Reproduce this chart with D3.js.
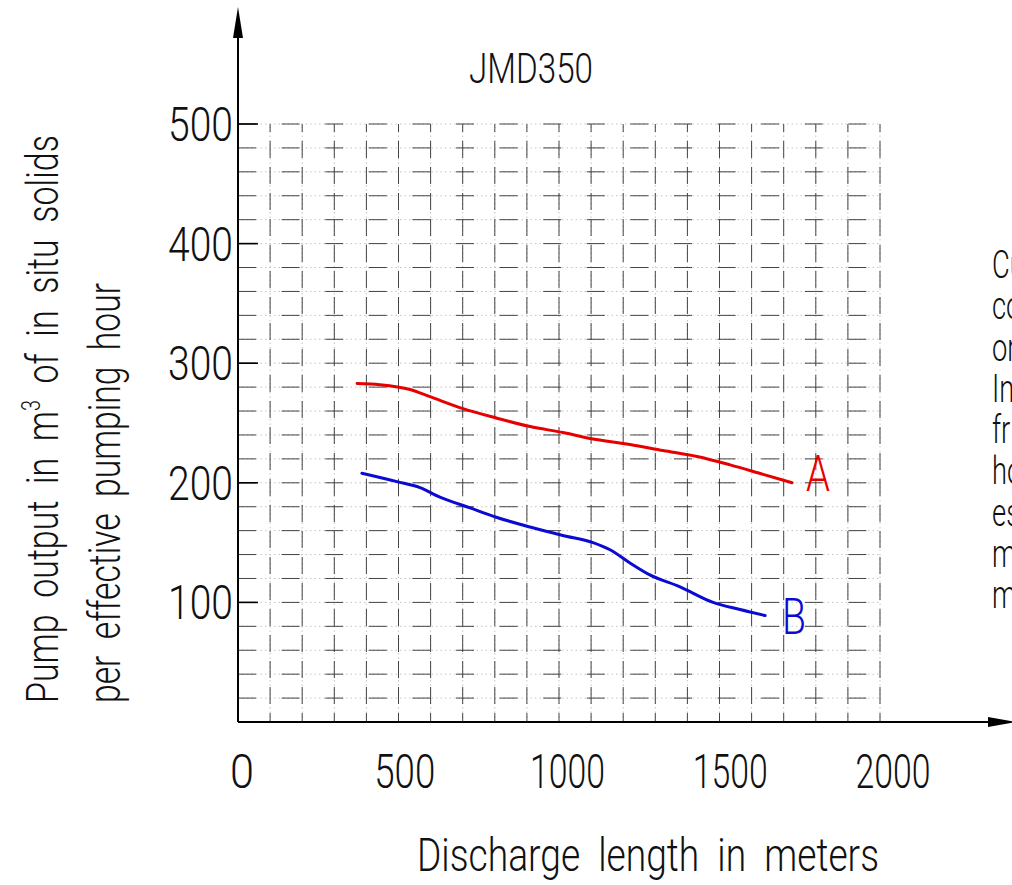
<!DOCTYPE html>
<html lang="en">
<head>
  <meta charset="UTF-8">
  <title>JMD350 pump output</title>
  <style>
    body { margin: 0; background: #fff; }
    svg { display: block; }
    text { font-family: Roboto, "DejaVu Sans", sans-serif; font-weight: 300; fill: #111; white-space: pre; }
  </style>
</head>
<body>
  <svg width="1012" height="885"></svg>
  <script src="https://d3js.org/d3.v7.min.js"></script>
  <script>
    // data
    const xTicks = [0, 500, 1000, 1500, 2000];
    const yTicks = [100, 200, 300, 400, 500];

    const curveA = [
      [371, 283], [442, 282], [536, 278], [598, 272], [701, 262], [807, 254],
      [910, 247], [1012, 242], [1097, 237], [1221, 232], [1324, 227],
      [1430, 222], [1533, 215], [1636, 207], [1726, 200]
    ];
    const curveB = [
      [386, 208], [495, 201], [567, 196], [629, 188], [723, 179], [807, 171],
      [910, 163], [1012, 156], [1106, 150], [1159, 144], [1221, 133],
      [1283, 123], [1377, 113], [1480, 100], [1564, 94], [1642, 89]
    ];
    const seriesNames = ["A", "B"];
    const seriesColors = ["#e60000", "#0a0ad2"];

    // cut-off note at the right edge of the drawing
    const noteLines = ["Cu", "co", "or", "In", "fr", "ho", "es", "m", "m"];

    const svg = d3.select("svg");

    const x = d3.scaleLinear().domain([0, 2000]).range([238, 880]);
    const y = d3.scaleLinear().domain([0, 500]).range([722, 124]);

    // grid: faint dotted lines under CAD style dashes
    const gridX = d3.range(100, 2001, 100);
    const gridY = d3.range(20, 501, 20);
    const grid = svg.append("g");

    grid.selectAll(".hdot").data(gridY).enter().append("line")
      .attr("x1", x(0)).attr("x2", x(2000))
      .attr("y1", d => y(d)).attr("y2", d => y(d))
      .attr("stroke", "#c4c4c4").attr("stroke-width", 1)
      .attr("stroke-dasharray", "1.5 3");
    grid.selectAll(".vdot").data(gridX).enter().append("line")
      .attr("x1", d => x(d)).attr("x2", d => x(d))
      .attr("y1", y(0)).attr("y2", y(500))
      .attr("stroke", "#c4c4c4").attr("stroke-width", 1)
      .attr("stroke-dasharray", "1.5 3");

    grid.selectAll(".hdash").data(gridY).enter().append("line")
      .attr("x1", x(0)).attr("x2", x(2000))
      .attr("y1", d => y(d)).attr("y2", d => y(d))
      .attr("stroke", "#444").attr("stroke-width", 1)
      .attr("stroke-dasharray", "18 25.6");
    grid.selectAll(".vdash").data(gridX).enter().append("line")
      .attr("x1", d => x(d)).attr("x2", d => x(d))
      .attr("y1", y(0)).attr("y2", y(500))
      .attr("stroke", "#444").attr("stroke-width", 1)
      .attr("stroke-dasharray", "17 9")
      .attr("stroke-dashoffset", 8);

    // short dark ticks on the y axis
    svg.append("g").selectAll("line").data(yTicks).enter().append("line")
      .attr("x1", x(0)).attr("x2", x(0) + 20)
      .attr("y1", d => y(d)).attr("y2", d => y(d))
      .attr("stroke", "#000").attr("stroke-width", 1.6);

    // axes with arrow heads
    svg.append("line")
      .attr("x1", x(0)).attr("x2", x(0))
      .attr("y1", y(0)).attr("y2", 30)
      .attr("stroke", "#000").attr("stroke-width", 2);
    svg.append("path")
      .attr("d", `M${x(0)},7 L${x(0) - 5},38 L${x(0) + 5},38 Z`)
      .attr("fill", "#000");
    svg.append("line")
      .attr("x1", x(0)).attr("x2", 1000)
      .attr("y1", y(0)).attr("y2", y(0))
      .attr("stroke", "#000").attr("stroke-width", 2);
    svg.append("path")
      .attr("d", `M1016,${y(0)} L988,${y(0) - 5} L988,${y(0) + 5} Z`)
      .attr("fill", "#000");

    // tick labels
    svg.append("g").selectAll("text").data(xTicks).enter().append("text")
      .attr("x", d => x(d) + 4 + d * 0.0045)
      .attr("y", 788)
      .attr("text-anchor", "middle")
      .attr("font-size", 48)
      .attr("textLength", d => String(d).length === 1 ? 24 : String(d).length === 3 ? 61 : 75)
      .attr("lengthAdjust", "spacingAndGlyphs")
      .text(d => d);

    svg.append("g").selectAll("text").data(yTicks).enter().append("text")
      .attr("x", 233)
      .attr("y", d => y(d) + 17)
      .attr("text-anchor", "end")
      .attr("font-size", 48)
      .attr("textLength", 65)
      .attr("lengthAdjust", "spacingAndGlyphs")
      .text(d => d);

    // title and axis titles
    svg.append("text")
      .attr("x", 469).attr("y", 83)
      .attr("font-size", 42)
      .attr("textLength", 124).attr("lengthAdjust", "spacingAndGlyphs")
      .text("JMD350");

    svg.append("text")
      .attr("x", 417).attr("y", 871)
      .attr("font-size", 47)
      .attr("textLength", 462).attr("lengthAdjust", "spacingAndGlyphs")
      .text("Discharge  length  in  meters");

    const yTitle1 = svg.append("text")
      .attr("transform", "translate(58,703) rotate(-90)")
      .attr("font-size", 45)
      .attr("textLength", 568).attr("lengthAdjust", "spacingAndGlyphs");
    yTitle1.append("tspan").text("Pump  output  in  m");
    yTitle1.append("tspan").attr("dy", -18).attr("font-size", 26).text("3");
    yTitle1.append("tspan").attr("dy", 18).text("  of  in  situ  solids");

    svg.append("text")
      .attr("transform", "translate(120,703) rotate(-90)")
      .attr("font-size", 45)
      .attr("textLength", 420).attr("lengthAdjust", "spacingAndGlyphs")
      .text("per  effective  pumping  hour");

    // note text cut by the page edge, drawn condensed like the CAD font
    svg.append("g")
      .attr("transform", "translate(992,0) scale(0.72,1)")
      .selectAll("text").data(noteLines).enter().append("text")
      .attr("x", 0)
      .attr("y", (d, i) => 278 + i * 41.3)
      .attr("font-size", 38)
      .text(d => d);

    // curves
    const line = d3.line()
      .x(d => x(d[0]))
      .y(d => y(d[1]))
      .curve(d3.curveMonotoneX);

    const series = [curveA, curveB];
    const labelOffset = [[26, 8], [29, 18]];

    series.forEach((s, i) => {
      svg.append("path")
        .datum(s)
        .attr("d", line)
        .attr("fill", "none")
        .attr("stroke", seriesColors[i])
        .attr("stroke-width", 3)
        .attr("stroke-linecap", "round");

      const last = s[s.length - 1];
      svg.append("text")
        .attr("x", x(last[0]) + labelOffset[i][0])
        .attr("y", y(last[1]) + labelOffset[i][1])
        .attr("text-anchor", "middle")
        .attr("font-size", 50)
        .attr("font-weight", 400)
        .attr("textLength", 24).attr("lengthAdjust", "spacingAndGlyphs")
        .style("fill", seriesColors[i])
        .text(seriesNames[i]);
    });
  </script>
</body>
</html>
